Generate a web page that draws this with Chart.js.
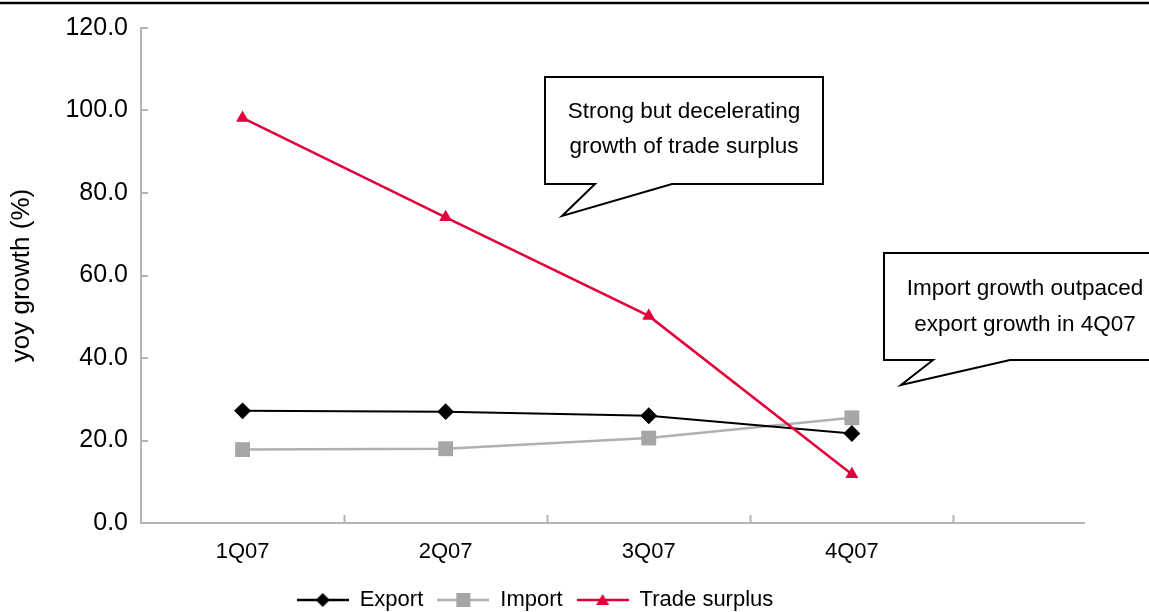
<!DOCTYPE html>
<html>
<head>
<meta charset="utf-8">
<script src="https://cdn.jsdelivr.net/npm/chart.js@4/dist/chart.umd.min.js"></script>
<style>
  html, body { margin: 0; padding: 0; background: #fff; }
  #wrap { width: 1149px; height: 612px; }
</style>
</head>
<body>
<div id="wrap"><canvas id="chart" width="1149" height="612"></canvas></div>
<script>
// quarters on the x axis
const quarters = ["1Q07", "2Q07", "3Q07", "4Q07"];
// yoy growth (%)
const exportGrowth = [27.2, 27.0, 26.0, 21.7];
const importGrowth = [17.8, 18.0, 20.6, 25.5];
const tradeSurplus = [98.2, 74.1, 50.2, 11.8];
const yTicks = [0, 20, 40, 60, 80, 100, 120];

const FONT = "'Liberation Sans', Arial, sans-serif";
const RED = "#e2003a";
const GREY = "#a6a6a6";
const AXIS = "#b4b4b4";

const toPoints = arr => arr.map((v, i) => ({ x: i, y: v }));

// small canvas used as legend symbol: line with marker in the middle
function legendSymbol(color, lineColor, style) {
  const c = document.createElement("canvas");
  c.width = 52; c.height = 18;
  const g = c.getContext("2d");
  g.strokeStyle = lineColor;
  g.lineWidth = 2.5;
  g.beginPath(); g.moveTo(0, 9); g.lineTo(52, 9); g.stroke();
  g.fillStyle = color;
  g.beginPath();
  if (style === "rectRot") {
    g.moveTo(26, 2); g.lineTo(33, 9); g.lineTo(26, 16); g.lineTo(19, 9);
  } else if (style === "rect") {
    g.rect(19, 2, 14, 14);
  } else {
    g.moveTo(26, 3); g.lineTo(32.5, 14); g.lineTo(19.5, 14);
  }
  g.closePath(); g.fill();
  return c;
}

// inner tick marks + top rule + callouts
const decor = {
  id: "decor",
  afterLayout(chart) {
    // legend sits centred under the original (wider) plot, shift it
    const lg = chart.legend;
    lg.left = 0; lg.right = 1070;
    lg.top += 9; lg.bottom += 9;
    // let the x labels run below the scale box without being clipped
    const xs = chart.scales.x;
    xs.bottom = chart.height; xs.height = xs.bottom - xs.top;
  },
  afterDraw(chart) {
    const ctx = chart.ctx;
    const { x, y } = chart.scales;
    const bottom = chart.chartArea.bottom, left = chart.chartArea.left;
    ctx.save();
    ctx.strokeStyle = AXIS;
    ctx.lineWidth = 2;
    [0.5, 1.5, 2.5, 3.5].forEach(v => {
      const px = Math.round(x.getPixelForValue(v)) + 0.5;
      ctx.beginPath(); ctx.moveTo(px, bottom); ctx.lineTo(px, bottom - 8); ctx.stroke();
    });
    yTicks.forEach(v => {
      const py = Math.round(y.getPixelForValue(v));
      ctx.beginPath(); ctx.moveTo(left, py); ctx.lineTo(left + 7, py); ctx.stroke();
    });

    // black rule at the very top
    ctx.strokeStyle = "#000";
    ctx.lineWidth = 2.5;
    ctx.beginPath(); ctx.moveTo(0, 3); ctx.lineTo(1149, 3); ctx.stroke();

    function callout(l, t, r, b, baseL, baseR, tipX, tipY, lines, d1, d2) {
      ctx.beginPath();
      ctx.moveTo(l, t); ctx.lineTo(r, t); ctx.lineTo(r, b);
      ctx.lineTo(baseR, b); ctx.lineTo(tipX, tipY); ctx.lineTo(baseL, b);
      ctx.lineTo(l, b); ctx.closePath();
      ctx.fillStyle = "#fff"; ctx.fill();
      ctx.strokeStyle = "#000"; ctx.lineWidth = 2; ctx.stroke();
      ctx.fillStyle = "#000";
      ctx.font = "22.5px " + FONT;
      ctx.textAlign = "center"; ctx.textBaseline = "middle";
      const cx = (l + r) / 2, cy = (t + b) / 2;
      ctx.fillText(lines[0], cx, cy + d1);
      ctx.fillText(lines[1], cx, cy + d2);
    }
    callout(545, 77, 823, 184, 595, 672, 562, 216,
      ["Strong but decelerating", "growth of trade surplus"], -19, 16);
    callout(884, 253, 1166, 360, 933, 1010, 901, 385,
      ["Import growth outpaced", "export growth in 4Q07"], -18, 18);
    ctx.restore();
  }
};

new Chart(document.getElementById("chart"), {
  type: "line",
  data: {
    datasets: [
      {
        label: "Export", data: toPoints(exportGrowth), order: 1,
        borderColor: "#000", backgroundColor: "#000", borderWidth: 2,
        pointStyle: "rectRot", pointRadius: 7, pointHoverRadius: 7,
        symbol: legendSymbol("#000", "#000", "rectRot")
      },
      {
        label: "Import", data: toPoints(importGrowth), order: 2,
        borderColor: "#b0b0b0", backgroundColor: GREY, borderWidth: 2.5,
        pointStyle: "rect", pointRadius: 10.5, pointHoverRadius: 10.5, pointBorderWidth: 0,
        symbol: legendSymbol(GREY, "#b0b0b0", "rect")
      },
      {
        label: "Trade surplus", data: toPoints(tradeSurplus), order: 0,
        borderColor: RED, backgroundColor: RED, borderWidth: 2.5,
        pointStyle: "triangle", pointRadius: 7.5, pointHoverRadius: 7.5, pointBorderWidth: 0,
        symbol: legendSymbol(RED, RED, "triangle")
      }
    ]
  },
  options: {
    responsive: false,
    animation: false,
    layout: { padding: { top: 25, right: 65, left: 0, bottom: 0 } },
    scales: {
      x: {
        type: "linear",
        min: -0.5, max: 4.143,
        grid: { display: false, drawTicks: false },
        border: { color: AXIS, width: 2 },
        afterBuildTicks: s => { s.ticks = quarters.map((q, i) => ({ value: i })); },
        afterFit: s => { s.height = s.chart.height - 523 - s.chart.legend.height; },
        ticks: {
          color: "#000", padding: 16, maxRotation: 0,
          font: { family: FONT, size: 22 },
          callback: v => quarters[v]
        }
      },
      y: {
        min: 0, max: 120,
        grid: { display: false, drawTicks: false },
        border: { color: AXIS, width: 2 },
        afterBuildTicks: s => { s.ticks = yTicks.map(v => ({ value: v })); },
        afterFit: s => { s.width = 141; },
        ticks: {
          color: "#000", padding: 13,
          font: { family: FONT, size: 25 },
          callback: v => v.toFixed(1)
        },
        title: {
          display: true, text: "yoy growth (%)", color: "#000",
          font: { family: FONT, size: 26, lineHeight: 1 },
          padding: { top: 9, bottom: 0 }
        }
      }
    },
    plugins: {
      tooltip: { enabled: false },
      legend: {
        position: "bottom",
        labels: {
          color: "#000",
          font: { family: FONT, size: 22, lineHeight: 1 },
          usePointStyle: true,
          pointStyleWidth: 52,
          padding: 14,
          generateLabels: chart => chart.data.datasets.map((ds, i) => ({
            text: ds.label, datasetIndex: i, pointStyle: ds.symbol,
            fillStyle: ds.backgroundColor, strokeStyle: ds.borderColor,
            lineWidth: 0, hidden: false, fontColor: "#000"
          }))
        }
      }
    }
  },
  plugins: [decor]
});
</script>
</body>
</html>
